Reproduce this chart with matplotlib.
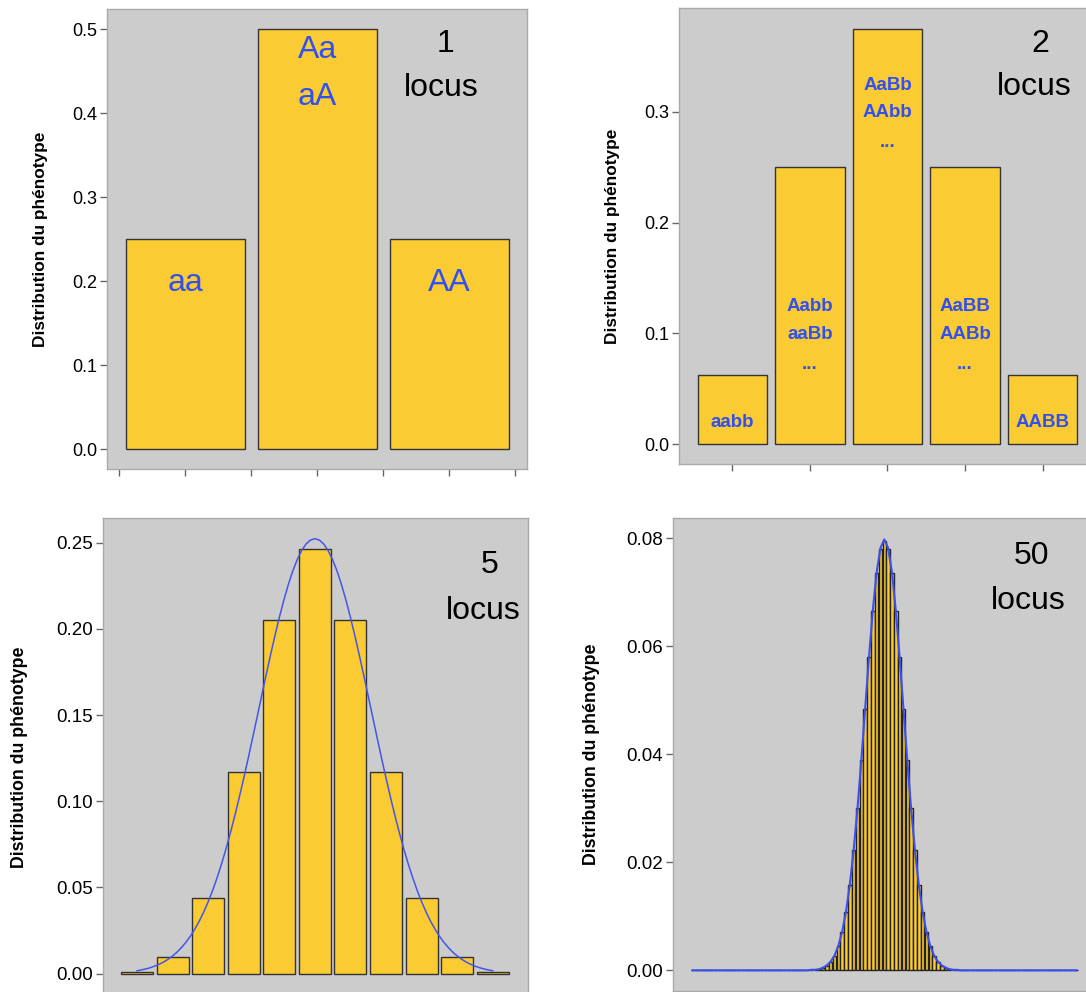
import numpy as np
import matplotlib
matplotlib.use('Agg')
import matplotlib.pyplot as plt

plt.rcParams['font.family'] = ['Liberation Sans', 'DejaVu Sans']

# phenotype distributions
dist_1 = [0.25, 0.50, 0.25]
dist_2 = [0.0625, 0.25, 0.375, 0.25, 0.0625]
dist_5 = [0.001, 0.0098, 0.0439, 0.1172, 0.2051, 0.2461,
          0.2051, 0.1172, 0.0439, 0.0098, 0.001]
core_50 = [0.00002, 0.00005, 0.00011, 0.00023, 0.00046, 0.00086, 0.00156,
           0.00270, 0.00447, 0.00711, 0.01084, 0.01587, 0.02229, 0.03007,
           0.03895, 0.04847, 0.05796, 0.06659, 0.07353, 0.07803, 0.07959,
           0.07803, 0.07353, 0.06659, 0.05796, 0.04847, 0.03895, 0.03007,
           0.02229, 0.01587, 0.01084, 0.00711, 0.00447, 0.00270, 0.00156,
           0.00086, 0.00046, 0.00023, 0.00011, 0.00005, 0.00002]
dist_50 = [0.0] * 30 + core_50 + [0.0] * 30

# blue normal curves
curve_5 = [0.0017, 0.0022, 0.0028, 0.0035, 0.0044, 0.0055, 0.0068, 0.0084,
           0.0103, 0.0125, 0.0152, 0.0182, 0.0218, 0.0259, 0.0305, 0.0358,
           0.0417, 0.0483, 0.0556, 0.0636, 0.0723, 0.0817, 0.0917, 0.1023,
           0.1134, 0.1249, 0.1368, 0.1488, 0.1609, 0.1729, 0.1846, 0.1959,
           0.2066, 0.2165, 0.2255, 0.2334, 0.2400, 0.2453, 0.2492, 0.2515,
           0.2523,
           0.2515, 0.2492, 0.2453, 0.2400, 0.2334, 0.2255, 0.2165, 0.2066,
           0.1959, 0.1846, 0.1729, 0.1609, 0.1488, 0.1368, 0.1249, 0.1134,
           0.1023, 0.0917, 0.0817, 0.0723, 0.0636, 0.0556, 0.0483, 0.0417,
           0.0358, 0.0305, 0.0259, 0.0218, 0.0182, 0.0152, 0.0125, 0.0103,
           0.0084, 0.0068, 0.0055, 0.0044, 0.0035, 0.0028, 0.0022, 0.0017]
curve_50_x = [0] + list(range(30, 71)) + [100]
curve_50 = [0.0, 0.0, 0.0001, 0.0001, 0.0002, 0.0005, 0.0009, 0.0016, 0.0027,
            0.0045, 0.0071, 0.0108, 0.0158, 0.0222, 0.0299, 0.0388, 0.0484,
            0.0579, 0.0666, 0.0737, 0.0782, 0.0798, 0.0782, 0.0737, 0.0666,
            0.0579, 0.0484, 0.0388, 0.0299, 0.0222, 0.0158, 0.0108, 0.0071,
            0.0045, 0.0027, 0.0016, 0.0009, 0.0005, 0.0002, 0.0001, 0.0001,
            0.0, 0.0]

labels_1 = [['aa'], ['Aa', 'aA'], ['AA']]
labels_2 = [['aabb'], ['Aabb', 'aaBb', '...'], ['AaBb', 'AAbb', '...'],
            ['AaBB', 'AABb', '...'], ['AABB']]

W, H = 1086, 992
BG = '#cccccc'
YELLOW = '#fbcb33'
EDGE = '#333333'
BLUE = '#3150f0'
YLABEL = 'Distribution du phénotype'

fig = plt.figure(figsize=(W / 100, H / 100), dpi=100)


def make_axes(left, top, right, bottom):
    return fig.add_axes([left / W, 1 - bottom / H, (right - left) / W,
                         (bottom - top) / H])


def style(ax, yticks, fmt, fs, lab_fs, xticks=None):
    ax.set_facecolor(BG)
    for s in ax.spines.values():
        s.set_color('#aaaaaa')
        s.set_linewidth(1.0)
    ax.set_yticks(yticks)
    ax.set_yticklabels([fmt % v for v in yticks])
    ax.tick_params(axis='y', length=5, width=1, color='#666666',
                   labelsize=fs, pad=2)
    if xticks is None:
        ax.set_xticks([])
    else:
        ax.set_xticks(xticks)
        ax.set_xticklabels([])
        ax.tick_params(axis='x', length=5, width=1, color='#666666')
    ax.set_ylabel(YLABEL, fontsize=lab_fs, fontweight='bold')


# 1 locus
ax1 = make_axes(107.4, 9, 527, 469)
x1 = np.arange(1, len(dist_1) + 1)
ax1.bar(x1, dist_1, width=0.9, color=YELLOW, edgecolor=EDGE, linewidth=1.0)
ax1.set_xlim(0.41, 3.59)
ax1.set_ylim(-0.0235, 0.524)
style(ax1, [0.0, 0.1, 0.2, 0.3, 0.4, 0.5], '%.1f', 13, 12.4,
      xticks=[0.5, 1, 1.5, 2, 2.5, 3, 3.5])
ax1.yaxis.set_label_coords(-0.141, 0.5)
ax1.text(1, 0.198, labels_1[0][0], color=BLUE, fontsize=23,
         ha='center', va='center')
ax1.text(2, 0.475, labels_1[1][0], color=BLUE, fontsize=23,
         ha='center', va='center')
ax1.text(2, 0.419, labels_1[1][1], color=BLUE, fontsize=23,
         ha='center', va='center')
ax1.text(3, 0.198, labels_1[2][0], color=BLUE, fontsize=23,
         ha='center', va='center')
ax1.text(2.97, 0.482, '1', fontsize=23, ha='center', va='center')
ax1.text(2.94, 0.430, 'locus', fontsize=23, ha='center', va='center')

# 2 locus
ax2 = make_axes(679, 8, 1096, 464)
x2 = np.arange(1, len(dist_2) + 1)
ax2.bar(x2, dist_2, width=0.9, color=YELLOW, edgecolor=EDGE, linewidth=1.0)
ax2.set_xlim(0.31, 5.69)
ax2.set_ylim(-0.0178, 0.3935)
style(ax2, [0.0, 0.1, 0.2, 0.3], '%.1f', 13, 12.4, xticks=list(x2))
ax2.yaxis.set_label_coords(-0.141, 0.5)
line_y = {1: [0.0192], 3: [0.1239, 0.0987, 0.0717],
          'mid': [0.324, 0.299, 0.2725]}
for i, lines in enumerate(labels_2):
    if len(lines) == 1:
        ys = line_y[1]
    elif i == 2:
        ys = line_y['mid']
    else:
        ys = line_y[3]
    for txt, y in zip(lines, ys):
        ax2.text(x2[i], y, txt, color=BLUE, fontsize=13.5, fontweight='bold',
                 ha='center', va='center')
ax2.text(4.97, 0.3610, '2', fontsize=23, ha='center', va='center')
ax2.text(4.89, 0.3222, 'locus', fontsize=23, ha='center', va='center')

# 5 locus
ax3 = make_axes(102.5, 518, 528, 1000)
x3 = np.arange(len(dist_5))
ax3.bar(x3, dist_5, width=0.9, color=YELLOW, edgecolor=EDGE, linewidth=1.0)
ax3.plot(np.linspace(0, 10, len(curve_5)), curve_5, color='#4455ee', lw=1.1)
ax3.set_xlim(-0.97, 10.99)
ax3.set_ylim(-0.01525, 0.2643)
style(ax3, [0.0, 0.05, 0.10, 0.15, 0.20, 0.25], '%.2f', 13.5, 12.8)
ax3.yaxis.set_label_coords(-0.174, 0.504)
ax3.text(9.92, 0.2370, '5', fontsize=23, ha='center', va='center')
ax3.text(9.72, 0.2104, 'locus', fontsize=23, ha='center', va='center')

# 50 locus
ax4 = make_axes(673, 518, 1095.6, 991)
x4 = np.arange(len(dist_50))
ax4.bar(x4, dist_50, width=0.9, color=YELLOW, edgecolor='#222222',
        linewidth=1.0)
ax4.plot(curve_50_x, curve_50, color='#3a4ff0', lw=1.5)
ax4.set_xlim(-5.1, 105.1)
ax4.set_ylim(-0.00383, 0.08376)
style(ax4, [0.0, 0.02, 0.04, 0.06, 0.08], '%.2f', 13.5, 12.8)
ax4.yaxis.set_label_coords(-0.173, 0.5)
ax4.text(88.5, 0.0768, '50', fontsize=23, ha='center', va='center')
ax4.text(87.5, 0.0684, 'locus', fontsize=23, ha='center', va='center')

fig.savefig('out.png', dpi=100)
